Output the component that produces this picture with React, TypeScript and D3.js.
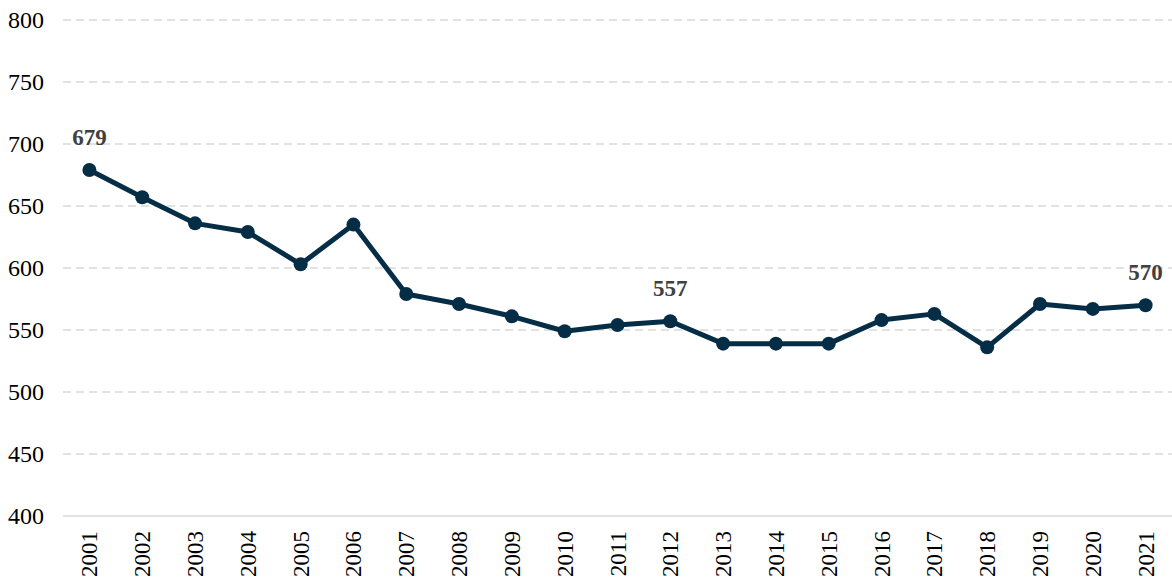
import React from "react";
import * as d3 from "d3";

const years = [
  "2001", "2002", "2003", "2004", "2005", "2006", "2007", "2008", "2009", "2010",
  "2011", "2012", "2013", "2014", "2015", "2016", "2017", "2018", "2019", "2020", "2021",
];
const values = [679, 657, 636, 629, 603, 635, 579, 571, 561, 549, 554, 557, 539, 539, 539, 558, 563, 536, 571, 567, 570];
const yTicks = [400, 450, 500, 550, 600, 650, 700, 750, 800];
const labeledYears = ["2001", "2012", "2021"];

const W = 1172;
const H = 581;
const margin = { top: 20, right: 0, bottom: 65, left: 63 };

export default function App() {
  const x = d3
    .scalePoint<string>()
    .domain(years)
    .range([margin.left, W - margin.right])
    .padding(0.5);
  const y = d3
    .scaleLinear()
    .domain([400, 800])
    .range([H - margin.bottom, margin.top]);

  const line = d3
    .line<number>()
    .x((_, i) => x(years[i])!)
    .y((d) => y(d));

  const font = "'Liberation Serif', 'Times New Roman', serif";

  return (
    <svg
      width={W}
      height={H}
      style={{ position: "absolute", left: 0, top: 0, background: "#fff" }}
      fontFamily={font}
    >
      {yTicks.map((t) => (
        <g key={t}>
          <line
            x1={margin.left}
            x2={W - margin.right}
            y1={y(t)}
            y2={y(t)}
            stroke="#d9d9d9"
            strokeWidth={1.5}
            strokeDasharray={t === 400 ? undefined : "8,5"}
          />
          <text x={44} y={y(t)} dy="0.35em" textAnchor="end" fontSize={24} fill="#000">
            {t}
          </text>
        </g>
      ))}
      {years.map((yr) => (
        <text
          key={yr}
          transform={`translate(${x(yr)! + 8},${H - margin.bottom + 15}) rotate(-90)`}
          textAnchor="end"
          fontSize={23}
          fill="#000"
        >
          {yr}
        </text>
      ))}
      <path d={line(values) ?? ""} fill="none" stroke="#062d46" strokeWidth={5} strokeLinejoin="round" />
      {values.map((v, i) => (
        <circle key={i} cx={x(years[i])!} cy={y(v)} r={7} fill="#062d46" />
      ))}
      {years.map((yr, i) =>
        labeledYears.includes(yr) ? (
          <text
            key={"l" + yr}
            x={x(yr)!}
            y={y(values[i]) - 25}
            textAnchor="middle"
            fontSize={23}
            fontWeight="bold"
            fill="#404040"
          >
            {values[i]}
          </text>
        ) : null
      )}
    </svg>
  );
}
